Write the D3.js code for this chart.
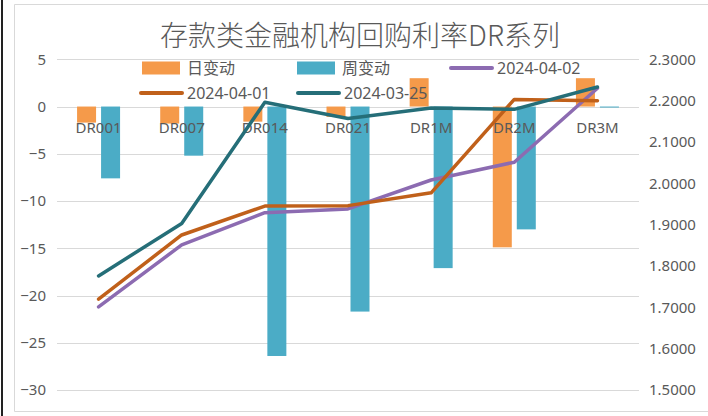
<!DOCTYPE html>
<html>
<head>
<meta charset="utf-8">
<script src="https://cdn.jsdelivr.net/npm/d3@7/dist/d3.min.js"></script>
<style>
  html, body { margin: 0; padding: 0; background: #fff; }
  svg { display: block; }
  text { font-family: "Noto Sans", "Noto Sans CJK SC", sans-serif; fill: #595959; }
</style>
</head>
<body>
<svg id="chart" width="708" height="416"></svg>
<script>
const categories = ["DR001", "DR007", "DR014", "DR021", "DR1M", "DR2M", "DR3M"];
const dailyChange = [-1.7, -1.8, -1.6, -1.1, 3.0, -14.9, 3.0];
const weeklyChange = [-7.6, -5.2, -26.4, -21.7, -17.1, -13.0, -0.1];
const rate20240402 = [1.701, 1.851, 1.929, 1.938, 2.008, 2.051, 2.230];
const rate20240401 = [1.720, 1.875, 1.945, 1.946, 1.977, 2.203, 2.200];
const rate20240325 = [1.776, 1.903, 2.196, 2.157, 2.182, 2.179, 2.233];
const leftTicks = [5, 0, -5, -10, -15, -20, -25, -30];
const rightTicks = [2.3, 2.2, 2.1, 2.0, 1.9, 1.8, 1.7, 1.6, 1.5];
const titleText = "存款类金融机构回购利率DR系列";

const colors = {
  daily: "#f59a4a",
  weekly: "#4bacc6",
  d0402: "#8c6bb1",
  d0401: "#c0601a",
  d0325: "#256e78"
};

const svg = d3.select("#chart");

// frame
svg.append("line").attr("x1", 2).attr("x2", 2).attr("y1", 0).attr("y2", 416)
  .attr("stroke", "#222").attr("stroke-width", 2);
svg.append("path").attr("d", "M708,4.5 H14.5 V411.5 H708")
  .attr("fill", "none").attr("stroke", "#d9d9d9").attr("stroke-width", 1);

const plot = { left: 57, right: 639, top: 59.3, bottom: 390 };

const x = d3.scaleBand().domain(categories).range([plot.left, plot.right]).padding(0);
const yL = d3.scaleLinear().domain([-30, 5]).range([plot.bottom, plot.top]);
const yR = d3.scaleLinear().domain([1.5, 2.3]).range([plot.bottom, plot.top]);

// gridlines
svg.append("g").selectAll("line").data(leftTicks).join("line")
  .attr("x1", plot.left).attr("x2", plot.right)
  .attr("y1", d => Math.round(yL(d)) + 0.5).attr("y2", d => Math.round(yL(d)) + 0.5)
  .attr("stroke", "#d9d9d9").attr("stroke-width", 1);

// left axis
const axL = d3.axisLeft(yL).tickValues(leftTicks).tickSize(0).tickPadding(11).tickFormat(d3.format("d"));
const gL = svg.append("g").attr("transform", `translate(${plot.left},0)`).call(axL);
gL.select(".domain").remove();
gL.selectAll("text").style("font-size", "15px").attr("fill", "#595959");

// right axis
const axR = d3.axisRight(yR).tickValues(rightTicks).tickSize(0).tickPadding(10).tickFormat(d3.format(".4f"));
const gR = svg.append("g").attr("transform", `translate(${plot.right},0)`).call(axR);
gR.select(".domain").remove();
gR.selectAll("text").style("font-size", "15px").attr("fill", "#595959");

// bars
const barW = 19, off = 12;
svg.append("g").selectAll("rect").data(categories.map((c, i) => ({c, v: dailyChange[i]}))).join("rect")
  .attr("x", d => x(d.c) + x.bandwidth() / 2 - off - barW / 2)
  .attr("width", barW)
  .attr("y", d => yL(Math.max(0, d.v)))
  .attr("height", d => Math.abs(yL(d.v) - yL(0)))
  .attr("fill", colors.daily);
svg.append("g").selectAll("rect").data(categories.map((c, i) => ({c, v: weeklyChange[i]}))).join("rect")
  .attr("x", d => x(d.c) + x.bandwidth() / 2 + off - barW / 2)
  .attr("width", barW)
  .attr("y", d => yL(Math.max(0, d.v)))
  .attr("height", d => Math.max(1, Math.abs(yL(d.v) - yL(0))))
  .attr("fill", colors.weekly);

// category labels
const axX = d3.axisBottom(x).tickSize(0).tickPadding(0);
const gX = svg.append("g").attr("transform", `translate(0,${yL(0)})`).call(axX);
gX.select(".domain").remove();
gX.selectAll("text").style("font-size", "15px").attr("fill", "#595959").attr("dy", "1.75em");

// lines
const line = d3.line().x((d, i) => x(categories[i]) + x.bandwidth() / 2).y(d => yR(d));
[[rate20240402, colors.d0402], [rate20240401, colors.d0401], [rate20240325, colors.d0325]].forEach(([data, col]) => {
  svg.append("path").datum(data).attr("d", line)
    .attr("fill", "none").attr("stroke", col).attr("stroke-width", 3.5)
    .attr("stroke-linejoin", "round").attr("stroke-linecap", "round");
});

// title
svg.append("text").attr("x", 360).attr("y", 46).attr("text-anchor", "middle")
  .style("font-size", "28px").style("font-weight", "300")
  .style("font-family", "'Noto Sans CJK SC', 'Noto Sans', sans-serif")
  .attr("fill", "#6b6b6b").text(titleText);

// legend
const legend = [
  {label: "日变动", type: "bar", col: colors.daily, x: 142, y: 68},
  {label: "周变动", type: "bar", col: colors.weekly, x: 297, y: 68},
  {label: "2024-04-02", type: "line", col: colors.d0402, x: 450, y: 68},
  {label: "2024-04-01", type: "line", col: colors.d0401, x: 140, y: 93},
  {label: "2024-03-25", type: "line", col: colors.d0325, x: 297, y: 93}
];
const lg = svg.append("g").selectAll("g").data(legend).join("g");
lg.each(function(d) {
  const g = d3.select(this);
  if (d.type === "bar") {
    g.append("rect").attr("x", d.x).attr("y", d.y - 6.5).attr("width", 38).attr("height", 13).attr("fill", d.col);
  } else {
    g.append("line").attr("x1", d.x + 1).attr("x2", d.x + 42).attr("y1", d.y).attr("y2", d.y)
      .attr("stroke", d.col).attr("stroke-width", 4).attr("stroke-linecap", "round");
  }
  g.append("text").attr("x", d.x + (d.type === "bar" ? 45 : 47)).attr("y", d.y).attr("dy", "0.35em")
    .style("font-size", "16px").attr("fill", "#595959").text(d.label);
});
</script>
</body>
</html>
